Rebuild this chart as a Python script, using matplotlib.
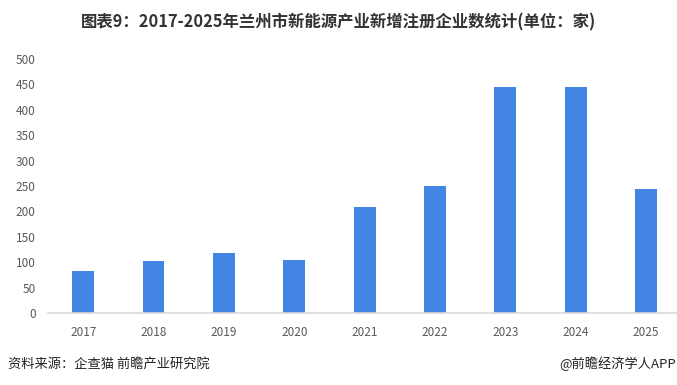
import matplotlib
matplotlib.use("Agg")
import matplotlib.pyplot as plt

plt.rcParams['font.family'] = ['Noto Sans CJK SC', 'DejaVu Sans']

years = ["2017", "2018", "2019", "2020", "2021", "2022", "2023", "2024", "2025"]
counts = [83, 102, 118, 104, 209, 250, 445, 445, 245]
yticks = [0, 50, 100, 150, 200, 250, 300, 350, 400, 450, 500]

title = "图表9：2017-2025年兰州市新能源产业新增注册企业数统计(单位：家)"
source = "资料来源：企查猫 前瞻产业研究院"
credit = "@前瞻经济学人APP"

fig = plt.figure(figsize=(6.77, 3.85), dpi=100)
ax = fig.add_axes([48/677, 72/385, 629/677, 254/385])

x = range(len(years))
ax.bar(x, counts, width=0.31, color="#4285E3", zorder=2)
ax.set_xticks(list(x))
ax.set_xticklabels(years)
ax.set_yticks(yticks)
ax.set_ylim(0, 500)
ax.set_xlim(-0.5, 8.44)

for s in ["top", "right", "left"]:
    ax.spines[s].set_visible(False)
ax.spines["bottom"].set_color("#D9D9D9")
ax.spines["bottom"].set_linewidth(1.2)
ax.tick_params(axis="both", length=0, labelsize=8.5, colors="#595959")
ax.tick_params(axis="y", pad=9)
ax.tick_params(axis="x", pad=9)

fig.text(0.5, 1 - 22/385, title, ha="center", va="center", fontsize=11.8,
         fontweight="bold", color="#333333")
fig.text(8/677, 1 - 364/385, source, ha="left", va="center", fontsize=9.5, color="#222222")
fig.text(676/677, 1 - 364/385, credit, ha="right", va="center", fontsize=9.5, color="#222222")

fig.savefig("out.png", dpi=100)
